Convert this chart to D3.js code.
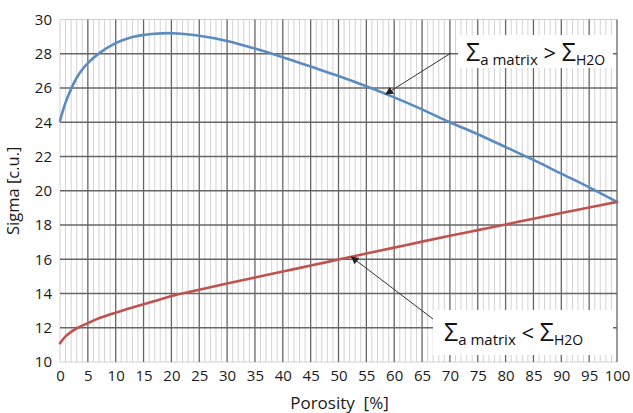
<!DOCTYPE html>
<html>
<head>
<meta charset="utf-8">
<script src="https://cdn.jsdelivr.net/npm/d3@7/dist/d3.min.js"></script>
<style>
  html, body { margin: 0; padding: 0; background: #fff; }
  svg { display: block; font-family: "Open Sans", "Liberation Sans", sans-serif; }
</style>
</head>
<body>
<svg id="chart" width="633" height="413"></svg>
<script>
// Porosity [%] sample points
const porosity = [0, 1, 2, 3, 4, 5, 7, 10, 13, 15, 17, 20, 25, 30, 35, 40, 45, 50, 55, 60, 65, 70, 75, 80, 85, 90, 95, 100];
// Sigma when the matrix absorbs more than water
const sigmaMatrixHigh = [24.1, 25.15, 25.95, 26.6, 27.08, 27.45, 28.02, 28.62, 28.98, 29.1, 29.17, 29.2, 29.05, 28.75, 28.3, 27.8, 27.25, 26.7, 26.1, 25.45, 24.75, 24.0, 23.3, 22.55, 21.8, 21.0, 20.2, 19.35];
// Sigma when the matrix absorbs less than water
const sigmaMatrixLow = [11.1, 11.5, 11.76, 11.96, 12.12, 12.27, 12.55, 12.88, 13.18, 13.37, 13.56, 13.85, 14.22, 14.58, 14.93, 15.28, 15.63, 15.98, 16.33, 16.68, 17.03, 17.37, 17.7, 18.03, 18.37, 18.7, 19.02, 19.35];

const xTicks = d3.range(0, 101, 5);
const yTicks = d3.range(10, 31, 2);

// Annotation anchors: porosity where each arrow meets its curve
const annotations = [
  { seriesIndex: 0, at: 58.5, cmp: ">", box: [458, 35, 155, 33], text: [466, 61], from: [451, 53] },
  { seriesIndex: 1, at: 52.3, cmp: "<", box: [433, 310, 180, 45], text: [444, 341], from: [433, 319] }
];

const series = [
  { values: sigmaMatrixHigh, color: "#5b8bbf" },
  { values: sigmaMatrixLow, color: "#be5350" }
];

const svg = d3.select("#chart");
const margin = { left: 60, right: 16, top: 19.5, bottom: 51 };
const W = 633, H = 413;

const x = d3.scaleLinear().domain([0, 100]).range([margin.left, W - margin.right]);
const y = d3.scaleLinear().domain([10, 30]).range([H - margin.bottom, margin.top]);

const grid = svg.append("g");

// minor vertical grid, every 1 %
grid.selectAll("line.minor")
  .data(d3.range(0, 101, 1).filter(v => v % 5 !== 0 || v === 0))
  .join("line")
  .attr("x1", d => x(d)).attr("x2", d => x(d))
  .attr("y1", y(10)).attr("y2", y(30))
  .attr("stroke", "#d3d3d3").attr("stroke-width", 1);

// top & bottom frame (light)
grid.selectAll("line.frameh")
  .data([10, 30])
  .join("line")
  .attr("x1", x(0)).attr("x2", x(100))
  .attr("y1", d => y(d)).attr("y2", d => y(d))
  .attr("stroke", "#d0d0d0").attr("stroke-width", 1);

// major vertical grid
grid.selectAll("line.majorx")
  .data(xTicks.filter(v => v > 0))
  .join("line")
  .attr("x1", d => x(d)).attr("x2", d => x(d))
  .attr("y1", y(10)).attr("y2", y(30))
  .attr("stroke", "#666").attr("stroke-width", 1.3);

// major horizontal grid
grid.selectAll("line.majory")
  .data(yTicks.filter(v => v > 10 && v < 30))
  .join("line")
  .attr("x1", x(0)).attr("x2", x(100))
  .attr("y1", d => y(d)).attr("y2", d => y(d))
  .attr("stroke", "#666").attr("stroke-width", 1.3);

// axes labels via d3 axes (ticks hidden)
const xAxis = svg.append("g")
  .attr("transform", `translate(0,${y(10)})`)
  .call(d3.axisBottom(x).tickValues(xTicks).tickSize(0).tickPadding(8));
xAxis.select(".domain").remove();
xAxis.selectAll("text").attr("font-size", 15).attr("fill", "#1a1a1a")
  .attr("font-family", "'Open Sans', sans-serif");

const yAxis = svg.append("g")
  .attr("transform", `translate(${x(0)},0)`)
  .call(d3.axisLeft(y).tickValues(yTicks).tickSize(0).tickPadding(8));
yAxis.select(".domain").remove();
yAxis.selectAll("text").attr("font-size", 15).attr("fill", "#1a1a1a")
  .attr("font-family", "'Open Sans', sans-serif");

svg.append("text")
  .attr("x", (x(0) + x(100)) / 2 + 1).attr("y", 409)
  .attr("text-anchor", "middle").attr("font-size", 17).attr("fill", "#1a1a1a")
  .attr("xml:space", "preserve")
  .text("Porosity  [%]");

svg.append("text")
  .attr("transform", `translate(19,${(y(10) + y(30)) / 2}) rotate(-90)`)
  .attr("text-anchor", "middle").attr("font-size", 16.5).attr("fill", "#1a1a1a")
  .text("Sigma [c.u.]");

// curves
const line = d3.line()
  .x((d, i) => x(porosity[i]))
  .y(d => y(d))
  .curve(d3.curveCatmullRom.alpha(0.5));

series.forEach(s => {
  svg.append("path")
    .attr("d", line(s.values))
    .attr("fill", "none")
    .attr("stroke", s.color)
    .attr("stroke-width", 2.6)
    .attr("stroke-linecap", "round");
});

// arrowhead
svg.append("defs").append("marker")
  .attr("id", "arrow")
  .attr("viewBox", "0 0 10 10")
  .attr("refX", 9).attr("refY", 5)
  .attr("markerWidth", 8).attr("markerHeight", 8)
  .attr("markerUnits", "userSpaceOnUse")
  .attr("orient", "auto")
  .append("path").attr("d", "M0,0 L10,5 L0,10 z").attr("fill", "#222");

function valueAt(values, p) {
  const i = d3.bisectLeft(porosity, p);
  const i0 = Math.max(0, i - 1);
  const t = (p - porosity[i0]) / (porosity[i] - porosity[i0]);
  return values[i0] + t * (values[i] - values[i0]);
}

annotations.forEach(a => {
  const [bx, by, bw, bh] = a.box;
  svg.append("rect")
    .attr("x", bx).attr("y", by).attr("width", bw).attr("height", bh)
    .attr("fill", "#fff");

  const tx = x(a.at), ty = y(valueAt(series[a.seriesIndex].values, a.at));
  svg.append("line")
    .attr("x1", a.from[0]).attr("y1", a.from[1])
    .attr("x2", tx).attr("y2", ty)
    .attr("stroke", "#333").attr("stroke-width", 1)
    .attr("marker-end", "url(#arrow)");

  const t = svg.append("text")
    .attr("x", a.text[0]).attr("y", a.text[1])
    .attr("fill", "#111").attr("font-size", 25)
    .attr("xml:space", "preserve");
  t.append("tspan").text("Σ");
  t.append("tspan").attr("font-size", 15).attr("dy", 4).text("a matrix");
  t.append("tspan").attr("dy", -4).attr("font-size", 22).text(" " + a.cmp + " ");
  t.append("tspan").text("Σ");
  t.append("tspan").attr("font-size", 14).attr("dy", 4).text("H2O");
});
</script>
</body>
</html>
